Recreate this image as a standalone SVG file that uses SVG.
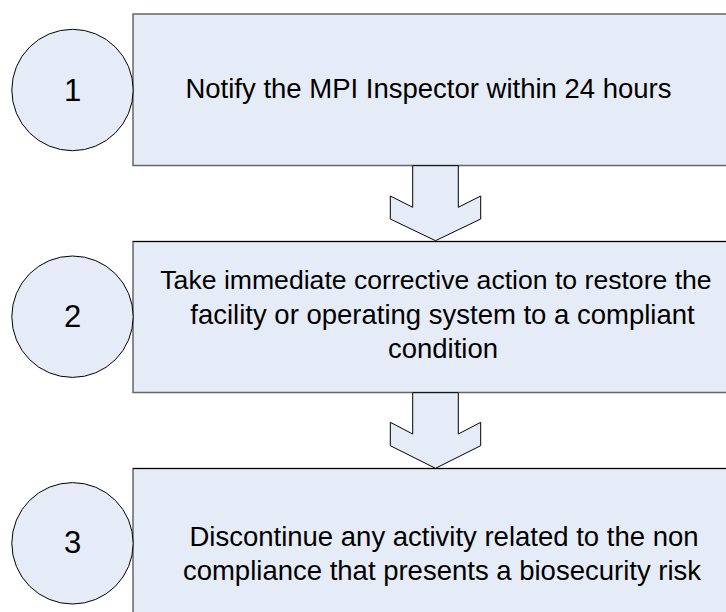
<svg xmlns="http://www.w3.org/2000/svg" width="726" height="612" viewBox="0 0 726 612">
  <style>
    .box { fill: #e6ecf7; stroke: #666; stroke-width: 1.5; }
    .edge { stroke: #000; stroke-width: 1.2; }
    .num { fill: #e6ecf7; stroke: #000; stroke-width: 1; }
    .arrow { fill: #e6ecf7; stroke: #000; stroke-width: 1; stroke-linejoin: miter; }
    text { font-family: "Liberation Sans", Arial, sans-serif; font-size: 27.5px; fill: #000; text-anchor: middle; }
    .digit { font-size: 31px; }
    .wide { font-size: 26.6px; }
  </style>
  <rect width="726" height="612" fill="#fff"/>

  <g id="step1">
    <rect class="box" x="133" y="14" width="620" height="151.5"/>
    <circle class="num" cx="72.5" cy="90" r="60.7"/>
    <text class="digit" x="72.5" y="100.5">1</text>
    <text x="428.5" y="98">Notify the MPI Inspector within 24 hours</text>
  </g>

  <g id="step2">
    <rect class="box" x="133" y="241.5" width="620" height="151"/>
    <line class="edge" x1="133" y1="241.5" x2="726" y2="241.5"/>
    <circle class="num" cx="72.5" cy="316.7" r="60.7"/>
    <text class="digit" x="72.5" y="326.5">2</text>
    <text class="wide" x="436" y="289">Take immediate corrective action to restore the</text>
    <text x="442.5" y="323.5">facility or operating system to a compliant</text>
    <text x="443" y="357.5">condition</text>
  </g>

  <g id="step3">
    <rect class="box" x="133" y="468.5" width="620" height="160"/>
    <line class="edge" x1="133" y1="468.5" x2="726" y2="468.5"/>
    <circle class="num" cx="72.5" cy="543.3" r="60.7"/>
    <text class="digit" x="72.5" y="553">3</text>
    <text x="444" y="545.5">Discontinue any activity related to the non</text>
    <text x="442" y="580">compliance that presents a biosecurity risk</text>
  </g>

  <g id="connectors">
    <path class="arrow" d="M412.7 165.7 L458.3 165.7 L458.3 207.3 L480.7 196 L480.7 219 L435.5 240.7 L390.3 219 L390.3 196 L412.7 207.3 Z"/>
    <path class="arrow" d="M412.7 392.7 L458.3 392.7 L458.3 434 L480.7 422.3 L480.7 445.7 L435.5 468.3 L390.3 445.7 L390.3 422.3 L412.7 434 Z"/>
  </g>
</svg>
